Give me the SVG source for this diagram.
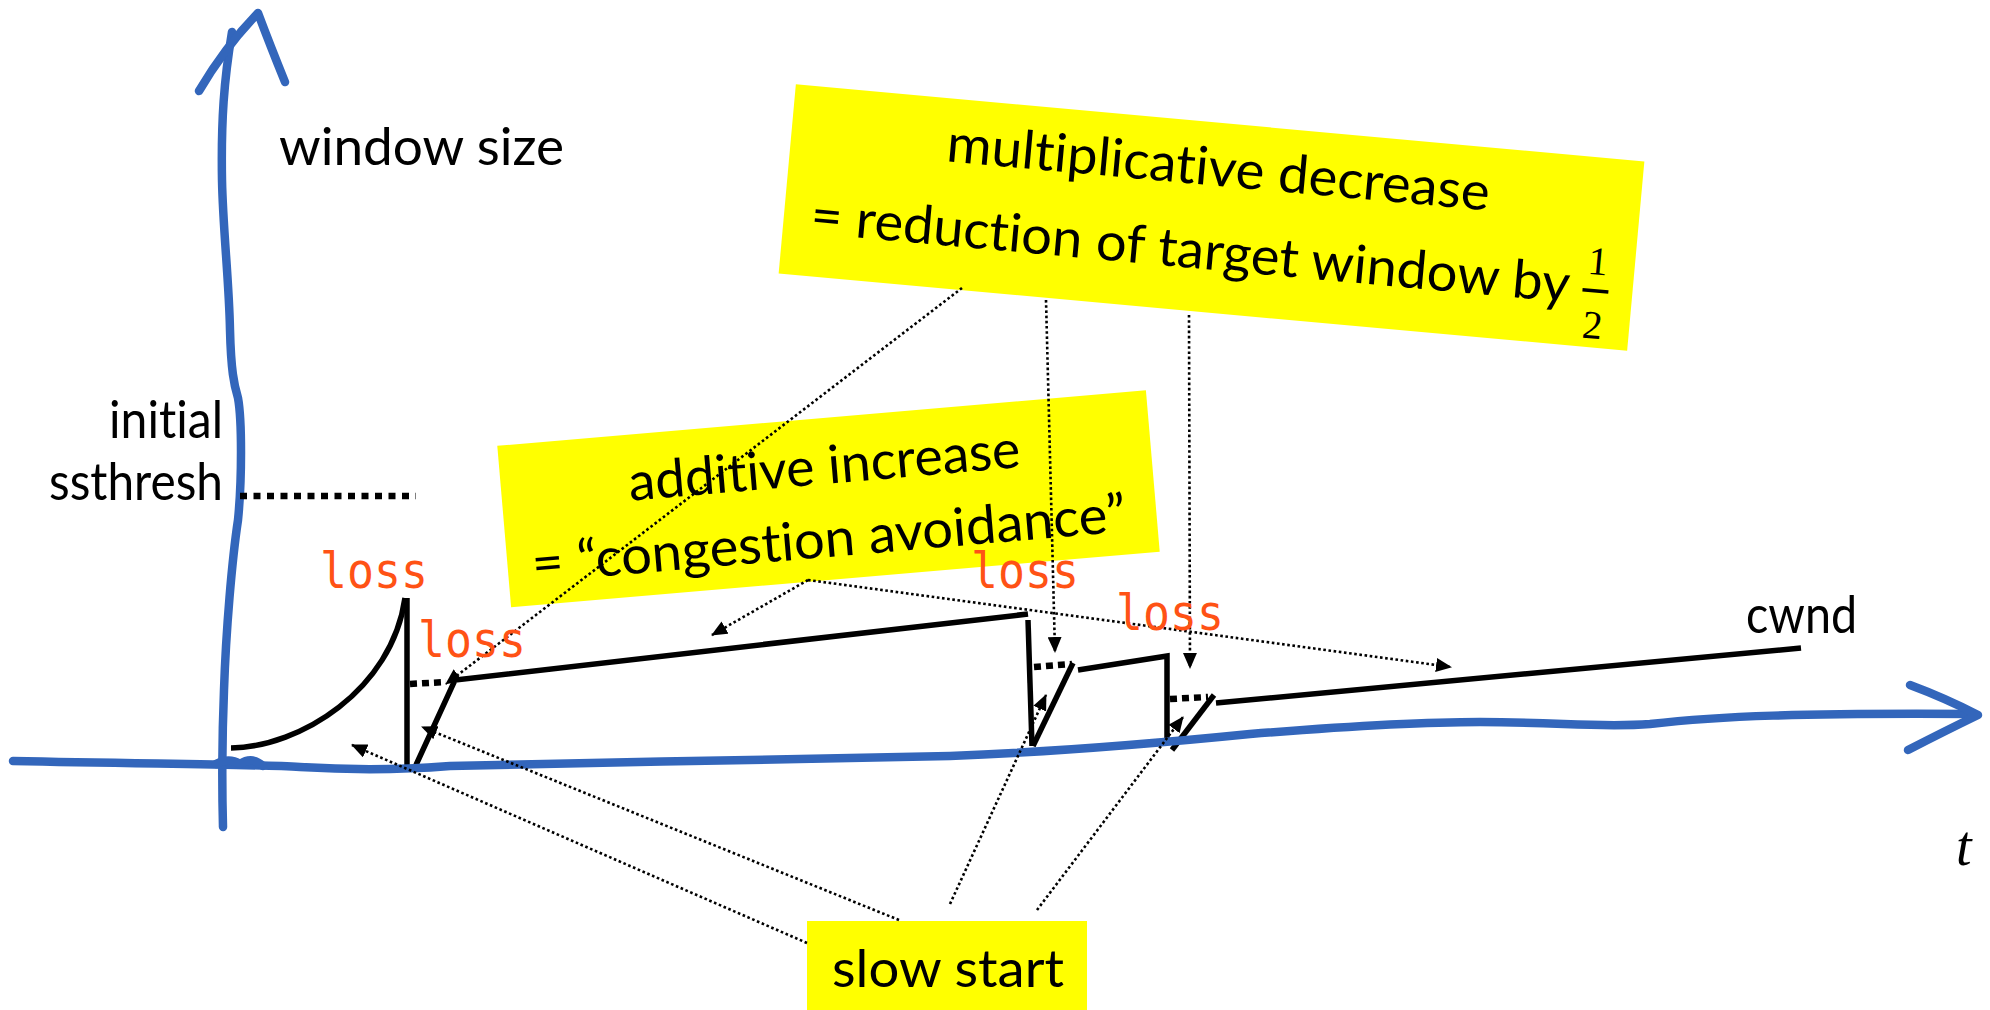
<svg xmlns="http://www.w3.org/2000/svg" width="1990" height="1010" viewBox="0 0 1990 1010">
  <style>
    .axis { fill: none; stroke: #3366bb; stroke-width: 8.5; stroke-linecap: round; stroke-linejoin: round; }
    .cw { fill: none; stroke: #000; stroke-width: 5.5; stroke-linecap: butt; stroke-linejoin: miter; }
    .cwdot { fill: none; stroke: #000; stroke-width: 6.5; stroke-dasharray: 7 5; }
    .thresh { fill: none; stroke: #000; stroke-width: 6.5; stroke-dasharray: 7 6.5; }
    .conn { fill: none; stroke: #000; stroke-width: 2.6; stroke-dasharray: 2.6 2.6; marker-end: url(#tri); }
    .note { fill: #ffff00; }
    text { font-variant-ligatures: none; font-feature-settings: "liga" 0, "clig" 0; }
    .lbl { font-family: Lato, "Open Sans", "Liberation Sans", sans-serif; font-size: 53px; fill: #000; }
    .loss { font-family: "DejaVu Sans Mono", "Liberation Mono", monospace; font-size: 50px; fill: #ff5215; }
    .frac { font-family: "Liberation Serif", "DejaVu Serif", serif; font-size: 40px; fill: #000; }
  </style>
  <defs>
    <marker id="tri" markerUnits="userSpaceOnUse" markerWidth="16" markerHeight="14" refX="15" refY="7" orient="auto">
      <path d="M0,0 L16,7 L0,14 z" fill="#000"/>
    </marker>
  </defs>

  <rect width="1990" height="1010" fill="#fff"/>

  <!-- congestion window trace -->
  <g id="cwnd-trace">
    <path class="cw" d="M231,748 C300,747 392,690 405,598"/>
    <path class="cw" d="M407,598 L407,770"/>
    <path class="cw" d="M416,765 L455,680 L1028,614"/>
    <path class="cwdot" d="M410,684 L446,682"/>
    <path class="cw" d="M1028,620 L1032,746"/>
    <path class="cw" d="M1033,746 L1073,663"/>
    <path class="cwdot" d="M1034,667 L1072,664"/>
    <path class="cw" d="M1078,670 L1167,656 L1167,740"/>
    <path class="cw" d="M1172,750 L1214,695"/>
    <path class="cwdot" d="M1170,699 L1208,697"/>
    <path class="cw" d="M1216,703 L1801,648"/>
  </g>

  <!-- hand-drawn axes -->
  <g id="axes">
    <path class="axis" d="M223,827 C222,790 222,740 224,690 C226,630 232,560 238,520 C242,480 242,420 238,398 C234,385 231,370 230,330 C229,280 223,230 222,180 C221,120 224,80 232,32"/>
    <path class="axis" d="M199,91 Q225,47 258,13 Q270,45 285,82"/>
    <path class="axis" d="M13,761 C150,764 250,764 300,767 C350,770 400,770 450,766 C600,762 850,759 950,756 C1050,752 1150,744 1250,734 C1350,726 1420,722 1480,722 C1560,722 1600,728 1650,724 C1720,716 1800,713 1974,714"/>
    <path class="axis" d="M1910,685 Q1945,698 1978,715 Q1945,731 1908,750"/>
    <path class="axis" stroke-width="5" d="M216,764 Q229,757 240,764 Q252,756 263,766"/>
  </g>

  <!-- axis and threshold labels -->
  <g id="label-window-size">
    <text class="lbl" x="279" y="165" textLength="285" lengthAdjust="spacingAndGlyphs">window size</text>
  </g>
  <g id="label-ssthresh">
    <text class="lbl" x="223" y="438" text-anchor="end" textLength="114" lengthAdjust="spacingAndGlyphs">initial</text>
    <text class="lbl" x="223" y="500" text-anchor="end" textLength="174" lengthAdjust="spacingAndGlyphs">ssthresh</text>
    <path class="thresh" d="M240,496 L416,496"/>
  </g>
  <g id="label-cwnd">
    <text class="lbl" x="1746" y="633" textLength="111" lengthAdjust="spacingAndGlyphs">cwnd</text>
  </g>
  <g id="label-t">
    <text x="1956" y="865" font-family="'Liberation Serif', 'DejaVu Serif', serif" font-style="italic" font-size="56" fill="#000">t</text>
  </g>

  <!-- annotation boxes -->
  <g id="box-multiplicative-decrease" transform="translate(1211.5,217.5) rotate(5.2)">
    <rect class="note" x="-426" y="-95" width="852" height="190"/>
    <text class="lbl" x="-270" y="-32" textLength="545" lengthAdjust="spacingAndGlyphs">multiplicative decrease</text>
    <text class="lbl" x="-399" y="52" textLength="762" lengthAdjust="spacingAndGlyphs">= reduction of target window by</text>
    <text class="frac" x="389" y="22" text-anchor="middle">1</text>
    <rect x="376" y="36.5" width="26" height="3.5" fill="#000"/>
    <text class="frac" x="389" y="86" text-anchor="middle">2</text>
  </g>

  <g id="box-additive-increase" transform="translate(828.5,498.75) rotate(-4.9)">
    <rect class="note" x="-325.5" y="-81" width="651" height="162"/>
    <text class="lbl" x="-198" y="-15" textLength="393" lengthAdjust="spacingAndGlyphs">additive increase</text>
    <text class="lbl" x="-301" y="58" textLength="596" lengthAdjust="spacingAndGlyphs">= “congestion avoidance”</text>
  </g>

  <g id="box-slow-start">
    <rect class="note" x="807" y="921" width="280" height="89"/>
    <text class="lbl" x="832" y="987" textLength="232" lengthAdjust="spacingAndGlyphs">slow start</text>
  </g>

  <!-- dotted pointers from the notes to the trace -->
  <g id="connectors">
    <path class="conn" d="M962,288 L446,684"/>
    <path class="conn" d="M1046,300 L1055,652"/>
    <path class="conn" d="M1189,315 L1190,668"/>
    <path class="conn" d="M808,580 L712,635"/>
    <path class="conn" d="M808,580 L1451,667"/>
    <path class="conn" d="M807,943 L352,745"/>
    <path class="conn" d="M899,920 L422,727"/>
    <path class="conn" d="M950,904 L1046,695"/>
    <path class="conn" d="M1037,910 L1183,717"/>
  </g>

  <!-- loss events -->
  <g id="loss-labels">
    <text class="loss" x="320" y="588" textLength="108" lengthAdjust="spacingAndGlyphs">loss</text>
    <text class="loss" x="418" y="657" textLength="108" lengthAdjust="spacingAndGlyphs">loss</text>
    <text class="loss" x="971" y="588" textLength="108" lengthAdjust="spacingAndGlyphs">loss</text>
    <text class="loss" x="1116" y="630" textLength="108" lengthAdjust="spacingAndGlyphs">loss</text>
  </g>
</svg>
